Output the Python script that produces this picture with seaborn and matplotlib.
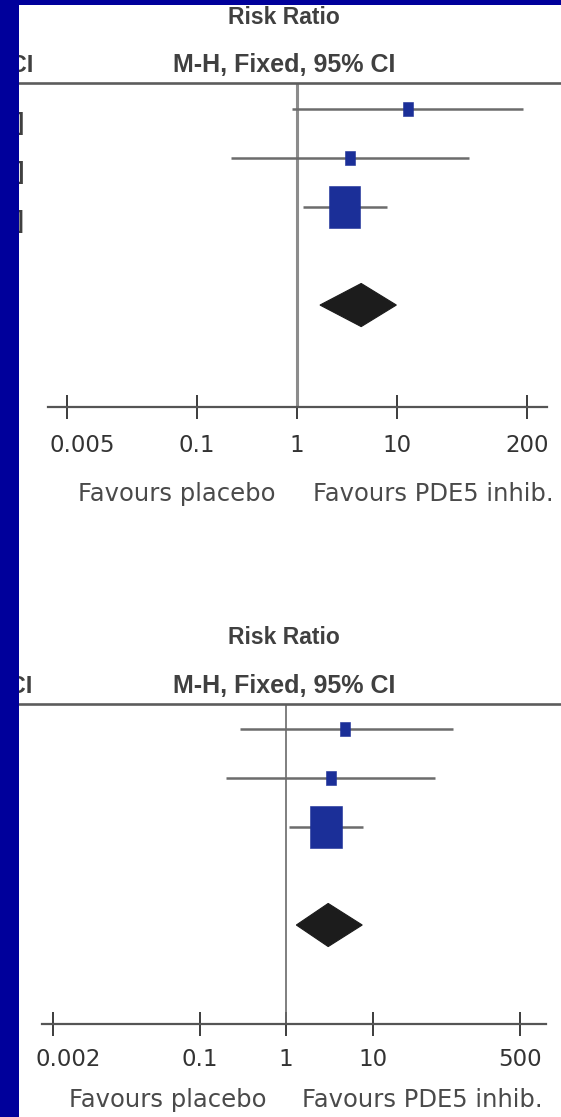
import matplotlib
matplotlib.use("Agg")
import numpy as np
import pandas as pd
import matplotlib.pyplot as plt
import seaborn as sns
import matplotlib.transforms as mtransforms
from matplotlib.lines import Line2D
from matplotlib.patches import Rectangle
from matplotlib.ticker import FixedLocator, FixedFormatter, NullLocator

# ---- data: risk ratios, 95% CI bounds and weights (%) per study ----
rr_top = [12.9, 3.4, 3.0]
lo_top = [0.89, 0.22, 1.15]
hi_top = [186.0, 52.5, 7.9]
w_top = [5.0, 6.0, 89.0]
pooled_top = [4.4, 1.7, 9.9]          # estimate, lower, upper
ticks_top = [0.005, 0.1, 1, 10, 200]
tick_labels_top = ["0.005", "0.1", "1", "10", "200"]

rr_bot = [4.8, 3.3, 2.9]
lo_bot = [0.29, 0.20, 1.08]
hi_bot = [85.0, 53.0, 7.8]
w_bot = [5.0, 6.0, 89.0]
pooled_bot = [3.06, 1.31, 7.57]
ticks_bot = [0.002, 0.1, 1, 10, 500]
tick_labels_bot = ["0.002", "0.1", "1", "10", "500"]

header = "Risk Ratio"
subheader = "M-H, Fixed, 95% CI"
fav_left = "Favours placebo"
fav_right = "Favours PDE5 inhib."

# ---- styling ----
sns.set_theme(style="white")
plt.rcParams["font.family"] = ["Liberation Sans", "DejaVu Sans"]

W, H = 561, 1117
BLUE = "#00009b"
TEXT = "#404040"
SQUARE = "#1b2f98"
WIDE = ["DejaVu Sans"]

fig = plt.figure(figsize=(W / 100, H / 100), dpi=100, facecolor=BLUE)


def fx(x):
    return x / W


def fy(y):
    return 1 - y / H


# white slide area
fig.add_artist(Rectangle((fx(19), 0), 1 - fx(19), fy(5), transform=fig.transFigure,
                         facecolor="white", edgecolor="none", zorder=-10))

# slightly taller-than-wide box marker used for the study estimates
box_marker = np.array([(-0.38, -0.5), (0.38, -0.5), (0.38, 0.5), (-0.38, 0.5), (-0.38, -0.5)])


def draw_panel(rr, lo, hi, w, pooled, ticks, tick_labels, lay):
    x0, ytop, x1, yaxis = lay["box"]
    ax = fig.add_axes([fx(x0), fy(yaxis), fx(x1) - fx(x0), fy(ytop) - fy(yaxis)])
    ax.patch.set_alpha(0)
    ax.set_xscale("log")
    ax.set_xlim(*lay["xlim"])
    ax.set_ylim(*lay["ylim"])

    rows = np.arange(len(rr))
    df = pd.DataFrame({"rr": rr, "lo": lo, "hi": hi, "w": w, "row": rows})

    # line of no effect
    ax.axvline(1, color=lay["vcolor"], lw=lay["vlw"], zorder=1)

    # confidence intervals
    ax.hlines(df["row"], df["lo"], df["hi"], color="#6c6c6c", lw=1.8, zorder=2)

    # study estimates, box area follows the weight
    sns.scatterplot(data=df, x="rr", y="row", size="w", sizes=(90, 900),
                    marker=box_marker, color=SQUARE, edgecolor=SQUARE,
                    linewidth=0.4, legend=False, ax=ax, zorder=3)

    # pooled estimate diamond
    est, plo, phi = pooled
    yd, hd = 4.0, 0.44
    ax.fill([plo, est, phi, est], [yd, yd - hd, yd, yd + hd],
            color="#1c1c1c", lw=0.8, zorder=3)

    # axis
    for s in ["top", "left", "right"]:
        ax.spines[s].set_visible(False)
    ax.spines["bottom"].set_color("#555555")
    ax.spines["bottom"].set_linewidth(1.6)
    ax.xaxis.set_major_locator(FixedLocator(ticks))
    ax.xaxis.set_major_formatter(FixedFormatter(tick_labels))
    ax.xaxis.set_minor_locator(NullLocator())
    ax.tick_params(axis="x", direction="inout", length=17, width=1.4,
                   color="#3c3c3c", labelsize=16.5, labelcolor="#333333",
                   pad=lay["pad"], bottom=True)
    for lab in ax.get_xticklabels():
        lab.set_fontfamily(WIDE)
    ax.set_yticks([])
    ax.set_xlabel("")
    ax.set_ylabel("")

    # the leftmost tick label sits a little inside the axis start
    first = ax.xaxis.get_major_ticks()[0].label1
    first.set_fontfamily(WIDE)
    first.set_transform(first.get_transform()
                        + mtransforms.ScaledTranslation(lay["first_dx"] / 100, 0,
                                                        fig.dpi_scale_trans))

    # header rule across the table
    fig.add_artist(Line2D([fx(19), 1], [fy(ytop)] * 2, transform=fig.transFigure,
                          color="#5c5c5c", lw=1.9, zorder=2))

    # headers
    hx = lay["hx"]
    fig.text(fx(hx), fy(lay["h1"]), header, ha="center", va="center",
             fontsize=16.5, fontweight="bold", color=TEXT)
    fig.text(fx(hx), fy(lay["h2"]), subheader, ha="center", va="center",
             fontsize=18, fontweight="bold", color=TEXT)
    # left column header, mostly hidden under the side band
    fig.text(fx(lay["cl_x"]), fy(lay["h2"]), subheader, ha="right", va="center",
             fontsize=17, fontweight="bold", color=TEXT, zorder=5)

    # left column values, mostly hidden under the side band
    if lay["show_values"]:
        tr = mtransforms.blended_transform_factory(fig.transFigure, ax.transData)
        for r, a, b, c in zip(rows, rr, lo, hi):
            ax.text(fx(24), r + 0.29, f"{a:.2f} [{b:.2f}, {c:.2f}]", transform=tr,
                    ha="right", va="center", fontsize=17, fontweight="bold",
                    color=TEXT, clip_on=False)

    # favours labels
    fig.text(fx(lay["fl"]), fy(lay["fy"]), fav_left, ha="center", va="center",
             fontsize=17.5, color="#4a4a4a", family=WIDE)
    fig.text(fx(lay["fr"]), fy(lay["fy"]), fav_right, ha="center", va="center",
             fontsize=17.5, color="#4a4a4a", family=WIDE)
    return ax


top_layout = dict(box=(48, 83, 547, 407), xlim=(0.0032, 320), ylim=(6.08, -0.53),
                  vcolor="#8c8c8c", vlw=2.2, hx=284, h1=17, h2=65, cl_x=33,
                  show_values=True, fl=177, fr=433, fy=494, pad=11, first_dx=15)
bot_layout = dict(box=(42, 704, 546, 1024), xlim=(0.0015, 1010), ylim=(6.02, -0.51),
                  vcolor="#6a6a6a", vlw=1.2, hx=284, h1=637, h2=686, cl_x=32,
                  show_values=False, fl=168, fr=422, fy=1100, pad=9, first_dx=15)

draw_panel(rr_top, lo_top, hi_top, w_top, pooled_top, ticks_top, tick_labels_top, top_layout)
draw_panel(rr_bot, lo_bot, hi_bot, w_bot, pooled_bot, ticks_bot, tick_labels_bot, bot_layout)

# blue side band and top band of the slide
fig.add_artist(Rectangle((0, 0), fx(19), 1, transform=fig.transFigure,
                         facecolor=BLUE, edgecolor="none", zorder=20))
fig.add_artist(Rectangle((0, fy(5)), 1, 1 - fy(5), transform=fig.transFigure,
                         facecolor=BLUE, edgecolor="none", zorder=20))

fig.savefig("out.png", dpi=100, facecolor=BLUE)
